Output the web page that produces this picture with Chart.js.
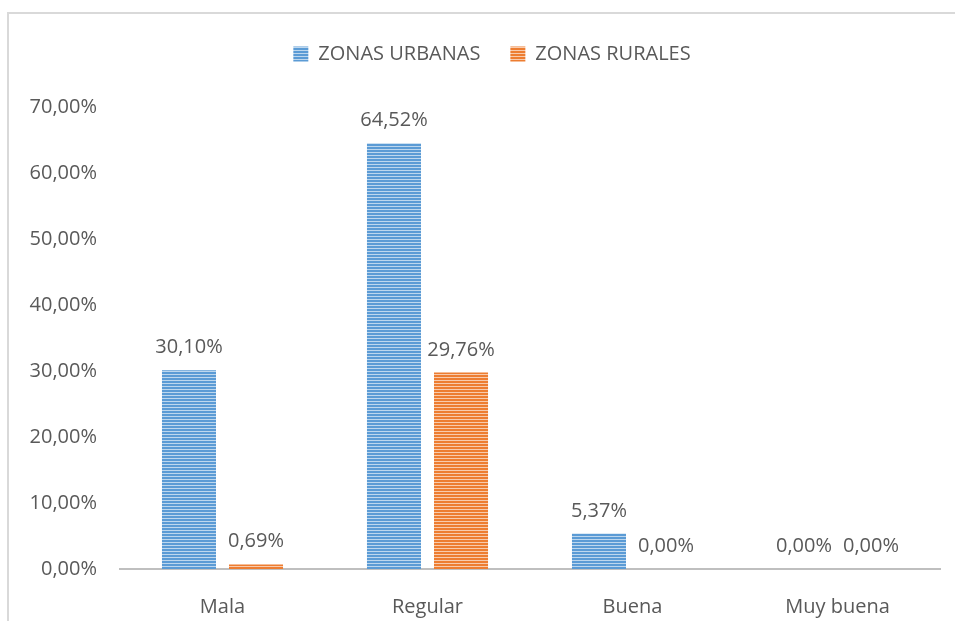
<!DOCTYPE html>
<html>
<head>
<meta charset="utf-8">
<script src="https://cdn.jsdelivr.net/npm/chart.js@4"></script>
<style>
    html, body { margin: 0; padding: 0; background: #fff; }
    #frame {
        position: absolute; left: 7px; top: 12px; width: 960px; height: 620px;
        border-left: 2px solid #d9d9d9; border-top: 2px solid #d9d9d9;
    }
    #wrap { position: absolute; left: 0; top: 0; width: 955px; height: 621px; }
</style>
</head>
<body>
<div id="frame"></div>
<div id="wrap"><canvas id="chart" width="955" height="621"></canvas></div>
<script>
const categories = ['Mala', 'Regular', 'Buena', 'Muy buena'];
const urbanValues = [30.10, 64.52, 5.37, 0.00];
const ruralValues = [0.69, 29.76, 0.00, 0.00];
const seriesNames = ['ZONAS URBANAS', 'ZONAS RURALES'];

const FONT = '"Open Sans", sans-serif';
const TEXT = '#595959';

// Horizontal striped fill like the Excel pattern
function stripes(dark, light) {
    const c = document.createElement('canvas');
    c.width = 4; c.height = 3;
    const g = c.getContext('2d');
    g.fillStyle = light;
    g.fillRect(0, 0, 4, 3);
    g.fillStyle = dark;
    g.fillRect(0, 0, 4, 2);
    return g.createPattern(c, 'repeat');
}

const fmt = v => v.toFixed(2).replace('.', ',') + '%';

// Draw value labels above each bar
const valueLabels = {
    id: 'valueLabels',
    afterDatasetsDraw(chart) {
        const ctx = chart.ctx;
        ctx.save();
        ctx.font = '20px ' + FONT;
        ctx.fillStyle = TEXT;
        ctx.textAlign = 'center';
        ctx.textBaseline = 'alphabetic';
        chart.data.datasets.forEach((ds, i) => {
            chart.getDatasetMeta(i).data.forEach((bar, j) => {
                ctx.fillText(fmt(ds.data[j]), bar.x, bar.y - 17);
            });
        });
        ctx.restore();
    }
};

// Extra space under the legend and shift it a bit right
const legendSpacing = {
    id: 'legendSpacing',
    beforeInit(chart) {
        const fit = chart.legend.fit;
        chart.legend.fit = function () {
            fit.bind(chart.legend)();
            this.height += 33;
        };
    },
    afterLayout(chart) {
        chart.legend.left += 22;
        chart.legend.right += 22;
    }
};

const ctx = document.getElementById('chart').getContext('2d');
new Chart(ctx, {
    type: 'bar',
    data: {
        labels: categories,
        datasets: [{
            label: seriesNames[0],
            data: urbanValues,
            backgroundColor: stripes('#5b9bd5', '#bdd7ee'),
            borderWidth: 0
        }, {
            label: seriesNames[1],
            data: ruralValues,
            backgroundColor: stripes('#ed7d31', '#f8cbad'),
            borderWidth: 0
        }]
    },
    options: {
        responsive: false,
        animation: false,
        devicePixelRatio: 1,
        categoryPercentage: 0.654,
        barPercentage: 0.806,
        layout: { padding: { top: 14, right: 15, left: 0, bottom: 0 } },
        scales: {
            x: {
                grid: { display: false },
                border: { display: true, color: '#bfbfbf', width: 2 },
                ticks: { color: TEXT, font: { family: FONT, size: 20 }, padding: 18 },
                afterFit: s => { s.height = 52; }
            },
            y: {
                min: 0,
                max: 70,
                grid: { display: false, drawTicks: false },
                border: { display: false },
                ticks: {
                    stepSize: 10,
                    color: TEXT,
                    font: { family: FONT, size: 20 },
                    padding: 23,
                    callback: v => fmt(v)
                },
                afterFit: s => { s.width = 120; }
            }
        },
        plugins: {
            legend: {
                position: 'top',
                labels: {
                    color: TEXT,
                    font: { family: FONT, size: 20 },
                    boxWidth: 15,
                    boxHeight: 15,
                    padding: 30
                }
            },
            tooltip: { enabled: false }
        }
    },
    plugins: [valueLabels, legendSpacing]
});
</script>
</body>
</html>
